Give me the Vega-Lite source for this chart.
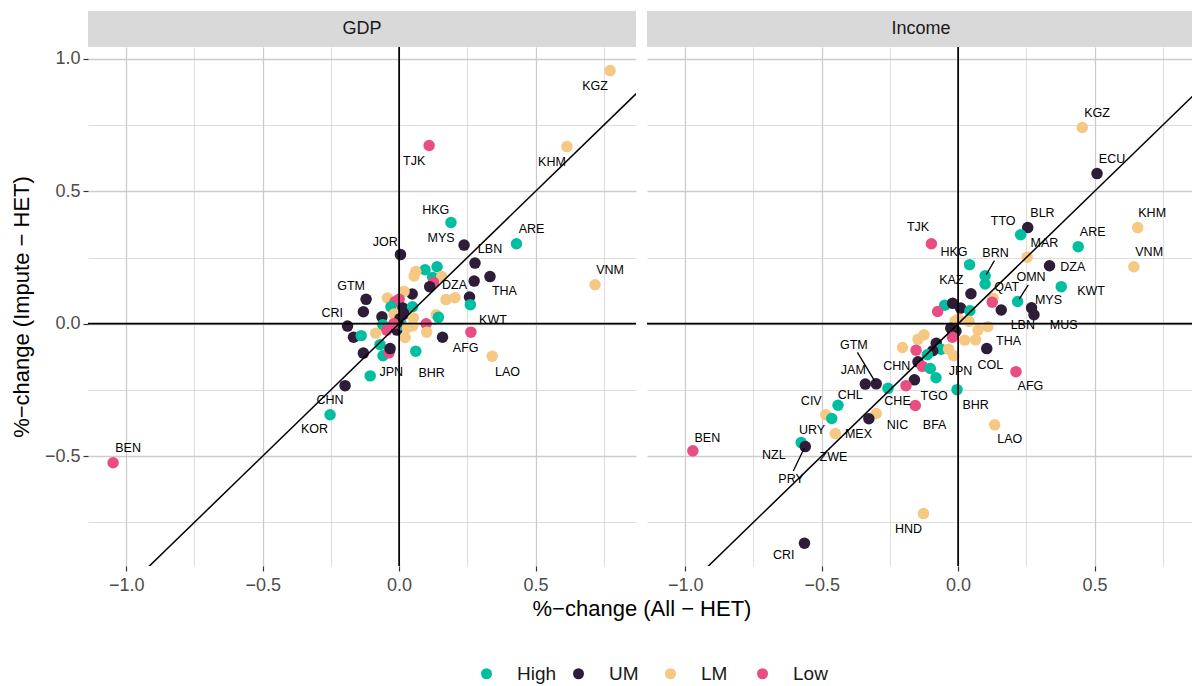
{
  "$schema": "https://vega.github.io/schema/vega-lite/v6.json",
  "background": "white",
  "padding": {"left": 10, "top": 11, "right": 0, "bottom": 0},
  "bounds": "flush",
  "columns": 2,
  "spacing": {"row": 0, "column": 11},
  "resolve": {"scale": {"color": "shared"}, "legend": {"color": "shared"}},
  "datasets": {
    "strips": [{"panel": "GDP"}, {"panel": "Income"}],
    "zero": [{"v": 0}],
    "diag": [{"x": -1.6, "y": -1.6, "x2": 1.6, "y2": 1.6}],
    "pts": [
      {"p": "GDP", "x": 0.773, "y": 0.956, "g": "LM"},
      {"p": "GDP", "x": 0.615, "y": 0.669, "g": "LM"},
      {"p": "GDP", "x": 0.110, "y": 0.673, "g": "Low"},
      {"p": "GDP", "x": 0.190, "y": 0.382, "g": "High"},
      {"p": "GDP", "x": 0.430, "y": 0.302, "g": "High"},
      {"p": "GDP", "x": 0.238, "y": 0.297, "g": "UM"},
      {"p": "GDP", "x": 0.005, "y": 0.261, "g": "UM"},
      {"p": "GDP", "x": 0.278, "y": 0.229, "g": "UM"},
      {"p": "GDP", "x": 0.718, "y": 0.147, "g": "LM"},
      {"p": "GDP", "x": 0.333, "y": 0.178, "g": "UM"},
      {"p": "GDP", "x": 0.275, "y": 0.161, "g": "UM"},
      {"p": "GDP", "x": 0.095, "y": 0.204, "g": "High"},
      {"p": "GDP", "x": 0.139, "y": 0.215, "g": "High"},
      {"p": "GDP", "x": 0.061, "y": 0.197, "g": "LM"},
      {"p": "GDP", "x": 0.055, "y": 0.180, "g": "LM"},
      {"p": "GDP", "x": 0.123, "y": 0.175, "g": "High"},
      {"p": "GDP", "x": 0.156, "y": 0.178, "g": "LM"},
      {"p": "GDP", "x": 0.126, "y": 0.156, "g": "Low"},
      {"p": "GDP", "x": 0.112, "y": 0.140, "g": "UM"},
      {"p": "GDP", "x": 0.172, "y": 0.091, "g": "LM"},
      {"p": "GDP", "x": 0.205, "y": 0.098, "g": "LM"},
      {"p": "GDP", "x": 0.258, "y": 0.101, "g": "UM"},
      {"p": "GDP", "x": 0.261, "y": 0.072, "g": "High"},
      {"p": "GDP", "x": -0.121, "y": 0.092, "g": "UM"},
      {"p": "GDP", "x": -0.043, "y": 0.097, "g": "LM"},
      {"p": "GDP", "x": 0.048, "y": 0.112, "g": "UM"},
      {"p": "GDP", "x": 0.018, "y": 0.122, "g": "LM"},
      {"p": "GDP", "x": 0.000, "y": 0.092, "g": "Low"},
      {"p": "GDP", "x": -0.015, "y": 0.083, "g": "Low"},
      {"p": "GDP", "x": -0.131, "y": 0.045, "g": "UM"},
      {"p": "GDP", "x": -0.063, "y": 0.026, "g": "UM"},
      {"p": "GDP", "x": 0.014, "y": 0.059, "g": "UM"},
      {"p": "GDP", "x": 0.049, "y": 0.064, "g": "High"},
      {"p": "GDP", "x": -0.030, "y": 0.064, "g": "High"},
      {"p": "GDP", "x": -0.018, "y": 0.037, "g": "LM"},
      {"p": "GDP", "x": 0.018, "y": 0.037, "g": "UM"},
      {"p": "GDP", "x": 0.052, "y": 0.022, "g": "LM"},
      {"p": "GDP", "x": -0.060, "y": -0.004, "g": "High"},
      {"p": "GDP", "x": 0.136, "y": 0.034, "g": "LM"},
      {"p": "GDP", "x": 0.144, "y": 0.024, "g": "High"},
      {"p": "GDP", "x": -0.189, "y": -0.009, "g": "UM"},
      {"p": "GDP", "x": -0.167, "y": -0.051, "g": "UM"},
      {"p": "GDP", "x": -0.139, "y": -0.045, "g": "High"},
      {"p": "GDP", "x": -0.086, "y": -0.036, "g": "LM"},
      {"p": "GDP", "x": -0.045, "y": -0.024, "g": "Low"},
      {"p": "GDP", "x": -0.008, "y": -0.024, "g": "UM"},
      {"p": "GDP", "x": 0.050, "y": -0.008, "g": "LM"},
      {"p": "GDP", "x": 0.099, "y": 0.000, "g": "Low"},
      {"p": "GDP", "x": 0.101, "y": -0.032, "g": "LM"},
      {"p": "GDP", "x": 0.022, "y": -0.052, "g": "LM"},
      {"p": "GDP", "x": 0.159, "y": -0.051, "g": "UM"},
      {"p": "GDP", "x": 0.263, "y": -0.032, "g": "Low"},
      {"p": "GDP", "x": 0.061, "y": -0.104, "g": "High"},
      {"p": "GDP", "x": 0.341, "y": -0.123, "g": "LM"},
      {"p": "GDP", "x": -0.131, "y": -0.111, "g": "UM"},
      {"p": "GDP", "x": -0.070, "y": -0.079, "g": "High"},
      {"p": "GDP", "x": -0.059, "y": -0.121, "g": "High"},
      {"p": "GDP", "x": -0.036, "y": -0.102, "g": "High"},
      {"p": "GDP", "x": -0.037, "y": -0.110, "g": "Low"},
      {"p": "GDP", "x": -0.033, "y": -0.094, "g": "UM"},
      {"p": "GDP", "x": -0.106, "y": -0.197, "g": "High"},
      {"p": "GDP", "x": -0.198, "y": -0.234, "g": "UM"},
      {"p": "GDP", "x": -0.253, "y": -0.344, "g": "High"},
      {"p": "GDP", "x": -1.048, "y": -0.525, "g": "Low"},
      {"p": "GDP", "x": 0.003, "y": 0.019, "g": "UM"},
      {"p": "GDP", "x": 0.010, "y": -0.005, "g": "High"},
      {"p": "GDP", "x": -0.005, "y": 0.005, "g": "UM"},
      {"p": "GDP", "x": 0.030, "y": -0.015, "g": "LM"},
      {"p": "GDP", "x": -0.020, "y": 0.000, "g": "Low"},
      {"p": "Income", "x": 0.455, "y": 0.741, "g": "LM"},
      {"p": "Income", "x": 0.509, "y": 0.567, "g": "UM"},
      {"p": "Income", "x": 0.658, "y": 0.363, "g": "LM"},
      {"p": "Income", "x": -0.098, "y": 0.302, "g": "Low"},
      {"p": "Income", "x": 0.255, "y": 0.363, "g": "UM"},
      {"p": "Income", "x": 0.229, "y": 0.336, "g": "High"},
      {"p": "Income", "x": 0.440, "y": 0.291, "g": "High"},
      {"p": "Income", "x": 0.644, "y": 0.215, "g": "LM"},
      {"p": "Income", "x": 0.253, "y": 0.251, "g": "LM"},
      {"p": "Income", "x": 0.335, "y": 0.219, "g": "UM"},
      {"p": "Income", "x": 0.042, "y": 0.223, "g": "High"},
      {"p": "Income", "x": 0.099, "y": 0.181, "g": "High"},
      {"p": "Income", "x": 0.099, "y": 0.150, "g": "High"},
      {"p": "Income", "x": 0.378, "y": 0.140, "g": "High"},
      {"p": "Income", "x": 0.047, "y": 0.113, "g": "UM"},
      {"p": "Income", "x": 0.218, "y": 0.084, "g": "High"},
      {"p": "Income", "x": 0.128, "y": 0.096, "g": "LM"},
      {"p": "Income", "x": 0.125, "y": 0.081, "g": "Low"},
      {"p": "Income", "x": 0.158, "y": 0.052, "g": "UM"},
      {"p": "Income", "x": 0.269, "y": 0.060, "g": "UM"},
      {"p": "Income", "x": 0.278, "y": 0.034, "g": "UM"},
      {"p": "Income", "x": -0.049, "y": 0.070, "g": "High"},
      {"p": "Income", "x": -0.020, "y": 0.077, "g": "UM"},
      {"p": "Income", "x": 0.009, "y": 0.059, "g": "UM"},
      {"p": "Income", "x": 0.043, "y": 0.049, "g": "High"},
      {"p": "Income", "x": -0.075, "y": 0.046, "g": "Low"},
      {"p": "Income", "x": -0.011, "y": 0.010, "g": "LM"},
      {"p": "Income", "x": 0.040, "y": 0.009, "g": "LM"},
      {"p": "Income", "x": 0.001, "y": 0.018, "g": "LM"},
      {"p": "Income", "x": 0.073, "y": -0.024, "g": "LM"},
      {"p": "Income", "x": 0.109, "y": -0.011, "g": "LM"},
      {"p": "Income", "x": -0.027, "y": -0.017, "g": "UM"},
      {"p": "Income", "x": -0.008, "y": -0.028, "g": "UM"},
      {"p": "Income", "x": -0.021, "y": -0.051, "g": "Low"},
      {"p": "Income", "x": 0.024, "y": -0.062, "g": "LM"},
      {"p": "Income", "x": 0.064, "y": -0.061, "g": "LM"},
      {"p": "Income", "x": 0.105, "y": -0.094, "g": "UM"},
      {"p": "Income", "x": -0.125, "y": -0.042, "g": "LM"},
      {"p": "Income", "x": -0.147, "y": -0.059, "g": "LM"},
      {"p": "Income", "x": -0.204, "y": -0.090, "g": "LM"},
      {"p": "Income", "x": -0.154, "y": -0.100, "g": "Low"},
      {"p": "Income", "x": -0.080, "y": -0.074, "g": "UM"},
      {"p": "Income", "x": -0.063, "y": -0.096, "g": "High"},
      {"p": "Income", "x": -0.093, "y": -0.102, "g": "UM"},
      {"p": "Income", "x": -0.113, "y": -0.117, "g": "High"},
      {"p": "Income", "x": -0.035, "y": -0.096, "g": "LM"},
      {"p": "Income", "x": -0.016, "y": -0.121, "g": "LM"},
      {"p": "Income", "x": -0.147, "y": -0.144, "g": "UM"},
      {"p": "Income", "x": -0.131, "y": -0.161, "g": "Low"},
      {"p": "Income", "x": -0.102, "y": -0.169, "g": "High"},
      {"p": "Income", "x": -0.081, "y": -0.204, "g": "High"},
      {"p": "Income", "x": -0.160, "y": -0.212, "g": "UM"},
      {"p": "Income", "x": -0.191, "y": -0.234, "g": "Low"},
      {"p": "Income", "x": -0.257, "y": -0.244, "g": "High"},
      {"p": "Income", "x": -0.300, "y": -0.227, "g": "UM"},
      {"p": "Income", "x": -0.340, "y": -0.228, "g": "UM"},
      {"p": "Income", "x": -0.157, "y": -0.309, "g": "Low"},
      {"p": "Income", "x": -0.004, "y": -0.249, "g": "High"},
      {"p": "Income", "x": 0.212, "y": -0.181, "g": "Low"},
      {"p": "Income", "x": 0.134, "y": -0.382, "g": "LM"},
      {"p": "Income", "x": -0.300, "y": -0.339, "g": "LM"},
      {"p": "Income", "x": -0.327, "y": -0.359, "g": "UM"},
      {"p": "Income", "x": -0.440, "y": -0.308, "g": "High"},
      {"p": "Income", "x": -0.485, "y": -0.344, "g": "LM"},
      {"p": "Income", "x": -0.463, "y": -0.358, "g": "High"},
      {"p": "Income", "x": -0.450, "y": -0.415, "g": "LM"},
      {"p": "Income", "x": -0.972, "y": -0.480, "g": "Low"},
      {"p": "Income", "x": -0.575, "y": -0.449, "g": "High"},
      {"p": "Income", "x": -0.560, "y": -0.464, "g": "UM"},
      {"p": "Income", "x": -0.563, "y": -0.829, "g": "UM"},
      {"p": "Income", "x": -0.127, "y": -0.717, "g": "LM"}
    ],
    "labs": [
      {"p": "GDP", "t": "KGZ", "x": 0.718, "y": 0.899},
      {"p": "GDP", "t": "KHM", "x": 0.560, "y": 0.612},
      {"p": "GDP", "t": "TJK", "x": 0.055, "y": 0.616},
      {"p": "GDP", "t": "HKG", "x": 0.134, "y": 0.431},
      {"p": "GDP", "t": "ARE", "x": 0.485, "y": 0.356},
      {"p": "GDP", "t": "MYS", "x": 0.154, "y": 0.325},
      {"p": "GDP", "t": "JOR", "x": -0.051, "y": 0.310},
      {"p": "GDP", "t": "LBN", "x": 0.333, "y": 0.283},
      {"p": "GDP", "t": "VNM", "x": 0.773, "y": 0.202},
      {"p": "GDP", "t": "THA", "x": 0.386, "y": 0.123},
      {"p": "GDP", "t": "DZA", "x": 0.203, "y": 0.147},
      {"p": "GDP", "t": "GTM", "x": -0.176, "y": 0.144},
      {"p": "GDP", "t": "CRI", "x": -0.245, "y": 0.042},
      {"p": "GDP", "t": "KWT", "x": 0.344, "y": 0.015},
      {"p": "GDP", "t": "AFG", "x": 0.244, "y": -0.091},
      {"p": "GDP", "t": "LAO", "x": 0.397, "y": -0.181},
      {"p": "GDP", "t": "JPN", "x": -0.029, "y": -0.181},
      {"p": "GDP", "t": "BHR", "x": 0.119, "y": -0.185},
      {"p": "GDP", "t": "CHN", "x": -0.253, "y": -0.289},
      {"p": "GDP", "t": "KOR", "x": -0.310, "y": -0.399},
      {"p": "GDP", "t": "BEN", "x": -0.993, "y": -0.471},
      {"p": "Income", "t": "KGZ", "x": 0.509, "y": 0.795},
      {"p": "Income", "t": "ECU", "x": 0.564, "y": 0.621},
      {"p": "Income", "t": "BLR", "x": 0.309, "y": 0.417},
      {"p": "Income", "t": "KHM", "x": 0.711, "y": 0.417},
      {"p": "Income", "t": "TTO", "x": 0.165, "y": 0.389},
      {"p": "Income", "t": "TJK", "x": -0.147, "y": 0.364},
      {"p": "Income", "t": "ARE", "x": 0.493, "y": 0.345},
      {"p": "Income", "t": "MAR", "x": 0.316, "y": 0.303},
      {"p": "Income", "t": "HKG", "x": -0.015, "y": 0.272},
      {"p": "Income", "t": "BRN", "x": 0.137, "y": 0.268},
      {"p": "Income", "t": "VNM", "x": 0.700, "y": 0.269},
      {"p": "Income", "t": "DZA", "x": 0.420, "y": 0.213},
      {"p": "Income", "t": "KAZ", "x": -0.025, "y": 0.165},
      {"p": "Income", "t": "OMN", "x": 0.267, "y": 0.178},
      {"p": "Income", "t": "QAT", "x": 0.178, "y": 0.137},
      {"p": "Income", "t": "KWT", "x": 0.487, "y": 0.122},
      {"p": "Income", "t": "MYS", "x": 0.331, "y": 0.090},
      {"p": "Income", "t": "LBN", "x": 0.237, "y": -0.004},
      {"p": "Income", "t": "MUS", "x": 0.387, "y": -0.004},
      {"p": "Income", "t": "THA", "x": 0.185, "y": -0.067},
      {"p": "Income", "t": "GTM", "x": -0.382, "y": -0.080},
      {"p": "Income", "t": "JAM", "x": -0.384, "y": -0.176},
      {"p": "Income", "t": "CHN", "x": -0.225, "y": -0.161},
      {"p": "Income", "t": "JPN", "x": 0.009, "y": -0.180},
      {"p": "Income", "t": "COL", "x": 0.118, "y": -0.157},
      {"p": "Income", "t": "AFG", "x": 0.265, "y": -0.237},
      {"p": "Income", "t": "CHL", "x": -0.395, "y": -0.268},
      {"p": "Income", "t": "CIV", "x": -0.538, "y": -0.291},
      {"p": "Income", "t": "CHE", "x": -0.222, "y": -0.291},
      {"p": "Income", "t": "TGO", "x": -0.088, "y": -0.272},
      {"p": "Income", "t": "BHR", "x": 0.064, "y": -0.306},
      {"p": "Income", "t": "NIC", "x": -0.222, "y": -0.384},
      {"p": "Income", "t": "BFA", "x": -0.086, "y": -0.384},
      {"p": "Income", "t": "MEX", "x": -0.365, "y": -0.415},
      {"p": "Income", "t": "URY", "x": -0.535, "y": -0.402},
      {"p": "Income", "t": "BEN", "x": -0.919, "y": -0.430},
      {"p": "Income", "t": "LAO", "x": 0.189, "y": -0.437},
      {"p": "Income", "t": "NZL", "x": -0.675, "y": -0.495},
      {"p": "Income", "t": "ZWE", "x": -0.457, "y": -0.505},
      {"p": "Income", "t": "PRY", "x": -0.612, "y": -0.585},
      {"p": "Income", "t": "HND", "x": -0.182, "y": -0.774},
      {"p": "Income", "t": "CRI", "x": -0.639, "y": -0.874}
    ],
    "segs": [
      {"p": "Income", "x": -0.369, "y": -0.108, "x2": -0.306, "y2": -0.216},
      {"p": "Income", "x": 0.133, "y": 0.238, "x2": 0.103, "y2": 0.185},
      {"p": "Income", "x": 0.257, "y": 0.147, "x2": 0.224, "y2": 0.093},
      {"p": "Income", "x": -0.604, "y": -0.556, "x2": -0.564, "y2": -0.470}
    ]
  },
  "concat": [
    {
      "width": 548, "height": 36,
      "data": {"name": "strips"},
      "transform": [{"filter": "datum.panel === 'GDP'"}],
      "view": {"fill": "#D9D9D9", "stroke": null},
      "mark": {"type": "text", "fontSize": 18, "color": "#1A1A1A", "baseline": "middle"},
      "encoding": {"text": {"field": "panel"}}
    },
    {
      "width": 548, "height": 36,
      "data": {"name": "strips"},
      "transform": [{"filter": "datum.panel === 'Income'"}],
      "view": {"fill": "#D9D9D9", "stroke": null},
      "mark": {"type": "text", "fontSize": 18, "color": "#1A1A1A", "baseline": "middle"},
      "encoding": {"text": {"field": "panel"}}
    },
    {
      "width": 548, "height": 519,
      "layer": [
        {
          "data": {"name": "pts"},
          "transform": [{"filter": "datum.p === 'GDP'"}],
          "mark": {"type": "circle", "size": 132, "opacity": 1},
          "encoding": {
            "x": {"field": "x", "type": "quantitative",
              "scale": {"domain": [-1.14, 0.868], "nice": false, "zero": false},
              "axis": {"title": "%−change (All − HET)", "titleX": 553.5, "labelPadding": 5, "values": [-1, -0.75, -0.5, -0.25, 0, 0.25, 0.5, 0.75],
                "labelExpr": "abs(datum.value*2 - round(datum.value*2)) < 0.001 ? format(datum.value, '.1f') : ''",
                "tickOpacity": {"condition": {"test": "abs(datum.value*2 - round(datum.value*2)) < 0.001", "value": 1}, "value": 0},
                "gridWidth": {"condition": {"test": "abs(datum.value*2 - round(datum.value*2)) < 0.001", "value": 1.3}, "value": 0.65}}},
            "y": {"field": "y", "type": "quantitative",
              "scale": {"domain": [-0.915, 1.045], "nice": false, "zero": false},
              "axis": {"title": "%−change (Impute − HET)", "titlePadding": 11, "values": [-0.75, -0.5, -0.25, 0, 0.25, 0.5, 0.75, 1],
                "labelExpr": "abs(datum.value*2 - round(datum.value*2)) < 0.001 ? format(datum.value, '.1f') : ''",
                "tickOpacity": {"condition": {"test": "abs(datum.value*2 - round(datum.value*2)) < 0.001", "value": 1}, "value": 0},
                "gridWidth": {"condition": {"test": "abs(datum.value*2 - round(datum.value*2)) < 0.001", "value": 1.3}, "value": 0.65}}},
            "color": {"field": "g", "type": "nominal",
              "scale": {"domain": ["High", "UM", "LM", "Low"], "range": ["#00BFA0", "#2E1D38", "#F5C883", "#E84E84"]},
              "legend": {"orient": "none", "legendX": 389, "legendY": 653, "direction": "horizontal", "title": null, "gridAlign": "all", "columns": 4, "columnPadding": 12}}
          }
        },
        {
          "data": {"name": "zero"},
          "mark": {"type": "rule", "color": "black", "strokeWidth": 1.7},
          "encoding": {"x": {"field": "v", "type": "quantitative"}}
        },
        {
          "data": {"name": "zero"},
          "mark": {"type": "rule", "color": "black", "strokeWidth": 1.7},
          "encoding": {"y": {"field": "v", "type": "quantitative"}}
        },
        {
          "data": {"name": "diag"},
          "mark": {"type": "rule", "color": "black", "strokeWidth": 1.5, "clip": true},
          "encoding": {"x": {"field": "x", "type": "quantitative"}, "y": {"field": "y", "type": "quantitative"}, "x2": {"field": "x2"}, "y2": {"field": "y2"}}
        },
        {
          "data": {"name": "labs"},
          "transform": [{"filter": "datum.p === 'GDP'"}],
          "mark": {"type": "text", "fontSize": 12.5, "color": "black", "baseline": "middle"},
          "encoding": {"x": {"field": "x", "type": "quantitative"}, "y": {"field": "y", "type": "quantitative"}, "text": {"field": "t"}}
        }
      ]
    },
    {
      "width": 548, "height": 519,
      "layer": [
        {
          "data": {"name": "pts"},
          "transform": [{"filter": "datum.p === 'Income'"}],
          "mark": {"type": "circle", "size": 132, "opacity": 1},
          "encoding": {
            "x": {"field": "x", "type": "quantitative",
              "scale": {"domain": [-1.14, 0.868], "nice": false, "zero": false},
              "axis": {"title": null, "labelPadding": 5, "values": [-1, -0.75, -0.5, -0.25, 0, 0.25, 0.5, 0.75],
                "labelExpr": "abs(datum.value*2 - round(datum.value*2)) < 0.001 ? format(datum.value, '.1f') : ''",
                "tickOpacity": {"condition": {"test": "abs(datum.value*2 - round(datum.value*2)) < 0.001", "value": 1}, "value": 0},
                "gridWidth": {"condition": {"test": "abs(datum.value*2 - round(datum.value*2)) < 0.001", "value": 1.3}, "value": 0.65}}},
            "y": {"field": "y", "type": "quantitative",
              "scale": {"domain": [-0.915, 1.045], "nice": false, "zero": false},
              "axis": {"title": null, "labels": false, "ticks": false, "values": [-0.75, -0.5, -0.25, 0, 0.25, 0.5, 0.75, 1],
                "gridWidth": {"condition": {"test": "abs(datum.value*2 - round(datum.value*2)) < 0.001", "value": 1.3}, "value": 0.65}}},
            "color": {"field": "g", "type": "nominal",
              "scale": {"domain": ["High", "UM", "LM", "Low"], "range": ["#00BFA0", "#2E1D38", "#F5C883", "#E84E84"]}}
          }
        },
        {
          "data": {"name": "zero"},
          "mark": {"type": "rule", "color": "black", "strokeWidth": 1.7},
          "encoding": {"x": {"field": "v", "type": "quantitative"}}
        },
        {
          "data": {"name": "zero"},
          "mark": {"type": "rule", "color": "black", "strokeWidth": 1.7},
          "encoding": {"y": {"field": "v", "type": "quantitative"}}
        },
        {
          "data": {"name": "diag"},
          "mark": {"type": "rule", "color": "black", "strokeWidth": 1.5, "clip": true},
          "encoding": {"x": {"field": "x", "type": "quantitative"}, "y": {"field": "y", "type": "quantitative"}, "x2": {"field": "x2"}, "y2": {"field": "y2"}}
        },
        {
          "data": {"name": "segs"},
          "mark": {"type": "rule", "color": "black", "strokeWidth": 1.3},
          "encoding": {"x": {"field": "x", "type": "quantitative"}, "y": {"field": "y", "type": "quantitative"}, "x2": {"field": "x2"}, "y2": {"field": "y2"}}
        },
        {
          "data": {"name": "labs"},
          "transform": [{"filter": "datum.p === 'Income'"}],
          "mark": {"type": "text", "fontSize": 12.5, "color": "black", "baseline": "middle"},
          "encoding": {"x": {"field": "x", "type": "quantitative"}, "y": {"field": "y", "type": "quantitative"}, "text": {"field": "t"}}
        }
      ]
    }
  ],
  "config": {
    "font": "Liberation Sans",
    "view": {"stroke": null},
    "axis": {
      "domain": false,
      "labelFontSize": 18,
      "labelColor": "#4D4D4D",
      "tickColor": "#333333",
      "tickSize": 5,
      "tickWidth": 1.2,
      "labelPadding": 3,
      "titleFontSize": 22,
      "titleFontWeight": "normal",
      "titleColor": "#000000",
      "gridColor": "#CCCCCC"
    },
    "legend": {
      "symbolSize": 121,
      "symbolType": "circle",
      "symbolStrokeWidth": 0,
      "labelFontSize": 19,
      "labelColor": "#1A1A1A",
      "labelOffset": 21,
      "padding": 0
    }
  }
}
